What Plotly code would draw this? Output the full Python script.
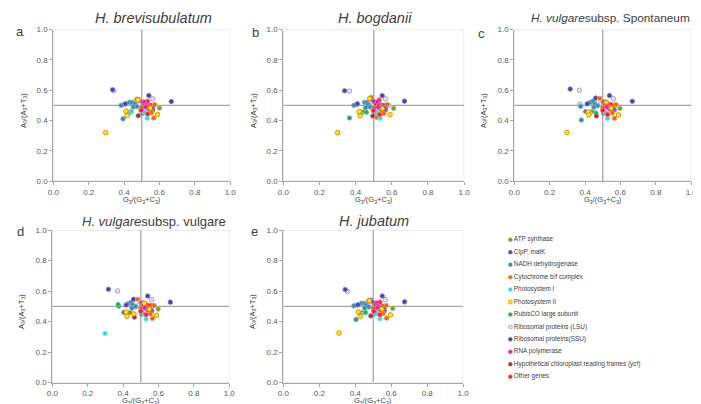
import plotly.graph_objects as go

# gene categories (legend order) and how many genes each holds in the point lists
categories = ['ATP synthase', 'ClpP, matK', 'NADH dehydrogenase', 'Cytochrome b/f complex',
              'Photosystem I', 'Photosystem II', 'RubisCO large subunit',
              'Ribosomal proteins (LSU)', 'Ribosomal proteins(SSU)', 'RNA polymerase',
              'Hypothetical chloroplast reading frames (ycf)', 'Other genes']
group_sizes = [6, 2, 11, 5, 4, 6, 1, 8, 11, 4, 3, 5]

species = ['<i>H. brevisubulatum</i>', '<i>H. bogdanii</i>',
           '<i>H. vulgare</i>subsp. Spontaneum', '<i>H. vulgare</i>subsp. vulgare',
           '<i>H. jubatum</i>']
panel_letters = ['a', 'b', 'c', 'd', 'e']
tick_vals = [0.0, 0.2, 0.4, 0.6, 0.8, 1.0]
tick_text = ['0.0', '0.2', '0.4', '0.6', '0.8', '1.0']

# G3/(G3+C3) and A3/(A3+T3), grouped in category order
x_a = [0.600, 0.505, 0.515, 0.500, 0.440, 0.548,
       0.562, 0.520,
       0.383, 0.430, 0.444, 0.459, 0.472, 0.394, 0.425, 0.452, 0.505, 0.520, 0.513,
       0.555, 0.567, 0.472, 0.572, 0.520,
       0.531, 0.515, 0.430, 0.525,
       0.296, 0.410, 0.417, 0.589, 0.478, 0.548,
       0.437,
       0.343, 0.561, 0.398, 0.460, 0.485, 0.535, 0.548, 0.512,
       0.335, 0.540, 0.667, 0.407, 0.478, 0.505, 0.538, 0.553, 0.560, 0.530, 0.518,
       0.515, 0.525, 0.540, 0.522,
       0.480, 0.505, 0.556,
       0.496, 0.533, 0.533, 0.512, 0.543]
y_a = [0.482, 0.470, 0.462, 0.488, 0.460, 0.472,
       0.470, 0.500,
       0.500, 0.520, 0.518, 0.510, 0.492, 0.411, 0.452, 0.490, 0.448, 0.452, 0.462,
       0.452, 0.417, 0.540, 0.505, 0.512,
       0.415, 0.455, 0.448, 0.480,
       0.320, 0.462, 0.432, 0.439, 0.536, 0.482,
       0.455,
       0.596, 0.544, 0.505, 0.522, 0.508, 0.490, 0.480, 0.498,
       0.603, 0.565, 0.525, 0.510, 0.540, 0.522, 0.502, 0.500, 0.488, 0.510, 0.497,
       0.522, 0.502, 0.478, 0.490,
       0.432, 0.478, 0.462,
       0.467, 0.527, 0.443, 0.512, 0.492]

x_b = [0.610, 0.505, 0.515, 0.500, 0.445, 0.548,
       0.565, 0.520,
       0.390, 0.450, 0.462, 0.470, 0.480, 0.366, 0.432, 0.455, 0.505, 0.522, 0.513,
       0.556, 0.517, 0.487, 0.575, 0.520,
       0.535, 0.515, 0.425, 0.527,
       0.300, 0.420, 0.425, 0.590, 0.478, 0.548,
       0.460,
       0.366, 0.565, 0.405, 0.472, 0.490, 0.535, 0.550, 0.583,
       0.339, 0.547, 0.670, 0.410, 0.489, 0.505, 0.540, 0.555, 0.560, 0.530, 0.518,
       0.520, 0.527, 0.542, 0.524,
       0.495, 0.505, 0.556,
       0.498, 0.530, 0.533, 0.512, 0.545]
y_b = [0.480, 0.468, 0.460, 0.485, 0.458, 0.470,
       0.472, 0.498,
       0.500, 0.520, 0.518, 0.505, 0.490, 0.417, 0.450, 0.485, 0.446, 0.450, 0.460,
       0.446, 0.420, 0.553, 0.505, 0.512,
       0.415, 0.455, 0.445, 0.478,
       0.320, 0.460, 0.430, 0.438, 0.545, 0.480,
       0.455,
       0.594, 0.543, 0.505, 0.500, 0.508, 0.490, 0.478, 0.500,
       0.596, 0.564, 0.528, 0.510, 0.540, 0.522, 0.500, 0.500, 0.486, 0.508, 0.495,
       0.522, 0.500, 0.476, 0.488,
       0.430, 0.476, 0.460,
       0.465, 0.535, 0.440, 0.510, 0.490]

x_c = [0.597, 0.505, 0.512, 0.500, 0.440, 0.548,
       0.565, 0.520,
       0.375, 0.430, 0.445, 0.455, 0.470, 0.379, 0.403, 0.450, 0.505, 0.520, 0.513,
       0.555, 0.566, 0.483, 0.575, 0.520,
       0.527, 0.515, 0.425, 0.525,
       0.298, 0.418, 0.421, 0.589, 0.520, 0.548,
       0.462,
       0.368, 0.560, 0.372, 0.490, 0.505, 0.535, 0.548, 0.570,
       0.316, 0.538, 0.667, 0.412, 0.460, 0.505, 0.538, 0.553, 0.562, 0.530, 0.518,
       0.515, 0.525, 0.540, 0.522,
       0.464, 0.505, 0.556,
       0.500, 0.545, 0.527, 0.512, 0.543]
y_c = [0.480, 0.470, 0.460, 0.488, 0.460, 0.472,
       0.470, 0.500,
       0.493, 0.520, 0.528, 0.510, 0.498, 0.403, 0.460, 0.488, 0.448, 0.452, 0.462,
       0.450, 0.415, 0.546, 0.505, 0.512,
       0.413, 0.455, 0.448, 0.480,
       0.321, 0.454, 0.437, 0.437, 0.520, 0.482,
       0.450,
       0.600, 0.544, 0.507, 0.510, 0.500, 0.490, 0.480, 0.500,
       0.608, 0.565, 0.527, 0.510, 0.548, 0.522, 0.502, 0.500, 0.470, 0.510, 0.497,
       0.522, 0.502, 0.478, 0.490,
       0.430, 0.478, 0.462,
       0.467, 0.505, 0.440, 0.512, 0.485]

x_d = [0.598, 0.505, 0.512, 0.500, 0.439, 0.548,
       0.561, 0.520,
       0.375, 0.430, 0.445, 0.455, 0.470, 0.404, 0.425, 0.450, 0.505, 0.520, 0.513,
       0.555, 0.566, 0.483, 0.575, 0.520,
       0.298, 0.530, 0.515, 0.525,
       0.418, 0.422, 0.589, 0.461, 0.520, 0.548,
       0.372,
       0.369, 0.561, 0.490, 0.505, 0.535, 0.548, 0.570, 0.512,
       0.317, 0.539, 0.667, 0.417, 0.459, 0.505, 0.538, 0.553, 0.561, 0.530, 0.518,
       0.515, 0.525, 0.540, 0.522,
       0.464, 0.505, 0.556,
       0.500, 0.545, 0.530, 0.512, 0.543]
y_d = [0.482, 0.470, 0.460, 0.488, 0.459, 0.472,
       0.470, 0.500,
       0.501, 0.518, 0.525, 0.510, 0.498, 0.460, 0.452, 0.488, 0.448, 0.452, 0.462,
       0.450, 0.420, 0.546, 0.505, 0.512,
       0.322, 0.416, 0.455, 0.480,
       0.462, 0.434, 0.441, 0.450, 0.520, 0.482,
       0.512,
       0.601, 0.544, 0.510, 0.500, 0.490, 0.480, 0.505, 0.498,
       0.612, 0.567, 0.527, 0.508, 0.546, 0.522, 0.502, 0.505, 0.470, 0.510, 0.497,
       0.522, 0.502, 0.478, 0.490,
       0.429, 0.478, 0.462,
       0.467, 0.505, 0.445, 0.512, 0.490]

x_e = [0.608, 0.505, 0.515, 0.500, 0.440, 0.548,
       0.562, 0.520,
       0.392, 0.435, 0.450, 0.460, 0.475, 0.404, 0.430, 0.452, 0.505, 0.520, 0.513,
       0.477, 0.574, 0.555, 0.572, 0.520,
       0.537, 0.515, 0.430, 0.525,
       0.310, 0.417, 0.428, 0.596, 0.478, 0.548,
       0.457,
       0.357, 0.568, 0.405, 0.462, 0.485, 0.535, 0.548, 0.512,
       0.344, 0.550, 0.674, 0.415, 0.486, 0.505, 0.538, 0.553, 0.560, 0.530, 0.518,
       0.520, 0.525, 0.540, 0.522,
       0.486, 0.505, 0.556,
       0.504, 0.537, 0.537, 0.512, 0.543]
y_e = [0.486, 0.470, 0.462, 0.488, 0.458, 0.472,
       0.470, 0.500,
       0.503, 0.520, 0.518, 0.510, 0.495, 0.413, 0.452, 0.488, 0.448, 0.452, 0.462,
       0.540, 0.422, 0.452, 0.505, 0.512,
       0.418, 0.455, 0.448, 0.480,
       0.325, 0.463, 0.433, 0.443, 0.536, 0.482,
       0.460,
       0.597, 0.544, 0.505, 0.522, 0.508, 0.490, 0.480, 0.498,
       0.610, 0.567, 0.529, 0.510, 0.540, 0.522, 0.502, 0.500, 0.488, 0.510, 0.497,
       0.522, 0.502, 0.478, 0.490,
       0.437, 0.478, 0.462,
       0.467, 0.527, 0.445, 0.512, 0.492]

panels_x = [x_a, x_b, x_c, x_d, x_e]
panels_y = [y_a, y_b, y_c, y_d, y_e]

# styling
fill_colors = ['#7F9A3A', '#5F4B8B', '#3A8BA8', '#E46C0A', '#2ED6F2', '#FFF200',
               '#1FAF4B', '#E4DCF0', '#4B3FA8', '#EC1C8C', '#8B3A4A', '#FF1A1A']
edge_colors = ['#A9BE78', '#9386B5', '#7DB6CB', '#F0A466', '#8AE8F7', '#E46C0A',
               '#7CD29A', '#A590C8', '#8F87CC', '#F47AB9', '#B98490', '#FF8080']
draw_order = [7, 2, 1, 8, 0, 6, 10, 3, 4, 11, 9, 5]

W, H = 701, 404
# plot boxes in pixels: left, right, top, bottom
boxes = [(40, 220, 18, 173), (274, 458, 18, 173), (509, 689, 18, 173),
         (39, 219, 223, 379), (274, 457, 223, 379)]
# title anchor point, alignment and size
title_pos = [(142, 6, 'center', 14.5), (367, 6, 'center', 14.5), (690, 6, 'right', 11.8),
             (218, 214, 'right', 13), (366, 214, 'center', 14.5)]
letter_pos = [(6, 20), (246, 21), (476, 22), (7, 225), (245, 225)]
ytitle_x = [10, 244, 478, 8, 243]


def px(v):
    return v / W


def py(v):
    return 1 - v / H


fig = go.Figure()
layout_axes = {}
shapes = []
annotations = []
font_main = 'Liberation Sans, Arial, sans-serif'

for i in range(5):
    n = '' if i == 0 else str(i + 1)
    xs, ys = panels_x[i], panels_y[i]
    starts = [sum(group_sizes[:k]) for k in range(len(group_sizes))]
    for k in draw_order:
        s, size = starts[k], group_sizes[k]
        fig.add_trace(go.Scatter(
            x=xs[s:s + size], y=ys[s:s + size],
            mode='markers', xaxis='x' + n, yaxis='y' + n, showlegend=False,
            marker=dict(size=4.6, color=fill_colors[k],
                        line=dict(color=edge_colors[k], width=0.8)),
            name=categories[k]))

    l, r, t, b = boxes[i]
    common = dict(range=[0, 1], tickvals=tick_vals, ticktext=tick_text,
                  showgrid=False, zeroline=False, showline=True,
                  linecolor='#A6A6A6', linewidth=1, ticks='outside', ticklen=3,
                  tickcolor='#A6A6A6', tickfont=dict(size=8, color='#595959', family=font_main))
    layout_axes['xaxis' + n] = dict(domain=[px(l), px(r)], anchor='y' + n, **common)
    layout_axes['yaxis' + n] = dict(domain=[py(b), py(t)], anchor='x' + n, **common)

    # light outer box and the 0.5 cross lines
    shapes.append(dict(type='rect', xref='x' + n, yref='y' + n, x0=0, x1=1, y0=0, y1=1,
                       line=dict(color='#D9D9D9', width=1), layer='below'))
    shapes.append(dict(type='line', xref='x' + n, yref='y' + n, x0=0.5, x1=0.5, y0=0, y1=1,
                       line=dict(color='#A6A6A6', width=1.3), layer='below'))
    shapes.append(dict(type='line', xref='x' + n, yref='y' + n, x0=0, x1=1, y0=0.5, y1=0.5,
                       line=dict(color='#A6A6A6', width=1.3), layer='below'))

    tx, ty, anchor, tsize = title_pos[i]
    annotations.append(dict(text=species[i], x=px(tx), y=py(ty), xref='paper', yref='paper',
                            showarrow=False, xanchor=anchor, yanchor='middle',
                            font=dict(size=tsize, color='#404040', family=font_main)))
    lx, ly = letter_pos[i]
    annotations.append(dict(text=panel_letters[i], x=px(lx), y=py(ly), xref='paper', yref='paper',
                            showarrow=False, xanchor='center', yanchor='middle',
                            font=dict(size=13, color='#404040', family=font_main)))
    annotations.append(dict(text='G<sub>3</sub>/(G<sub>3</sub>+C<sub>3</sub>)',
                            x=px((l + r) / 2), y=py(b + 19), xref='paper', yref='paper',
                            showarrow=False, xanchor='center', yanchor='middle',
                            font=dict(size=7.5, color='#404040', family=font_main)))
    annotations.append(dict(text='A<sub>3</sub>/(A<sub>3</sub>+T<sub>3</sub>)', textangle=-90,
                            x=px(ytitle_x[i]), y=py((t + b) / 2 + 5), xref='paper', yref='paper',
                            showarrow=False, xanchor='center', yanchor='middle',
                            font=dict(size=7.5, color='#404040', family=font_main)))

# legend drawn as a small marker list on its own hidden axes
fig.add_trace(go.Scatter(
    x=[0] * len(categories), y=list(range(len(categories))),
    mode='markers+text', text=categories, textposition='middle right',
    textfont=dict(size=6.4, color='#404040', family=font_main),
    marker=dict(size=4, color=fill_colors, line=dict(color=edge_colors, width=0.6)),
    xaxis='x6', yaxis='y6', showlegend=False, cliponaxis=False, hoverinfo='skip'))
layout_axes['xaxis6'] = dict(domain=[px(505), px(700)], range=[0, 1], visible=False, anchor='y6')
layout_axes['yaxis6'] = dict(domain=[py(373), py(233)], range=[11, 0], visible=False, anchor='x6')

fig.update_layout(
    width=W, height=H, margin=dict(l=0, r=0, t=0, b=0),
    paper_bgcolor='white', plot_bgcolor='white',
    shapes=shapes, annotations=annotations, showlegend=False,
    font=dict(family=font_main),
    **layout_axes)

fig.write_html('out.html')
